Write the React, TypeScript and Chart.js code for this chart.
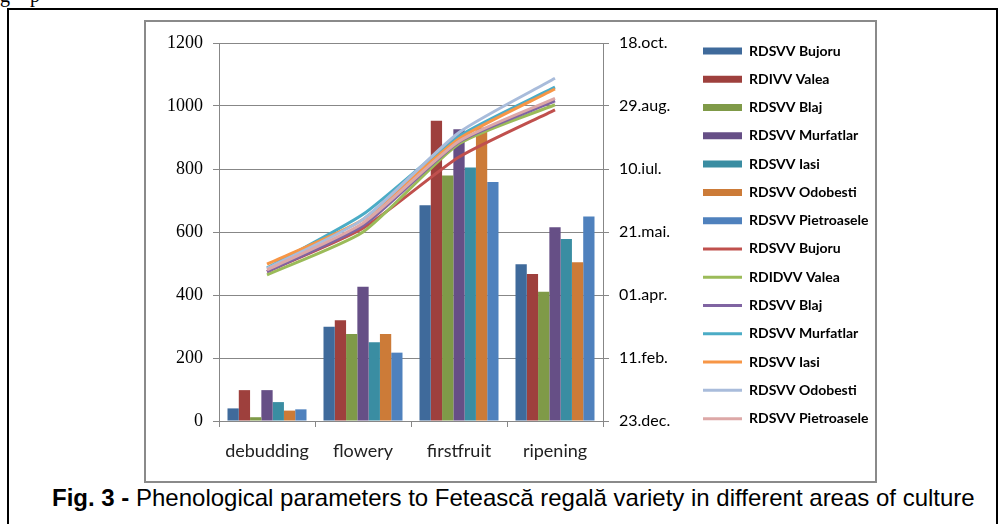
import React, { useEffect, useRef } from 'react';
import { Chart, registerables } from 'chart.js';

Chart.register(...registerables);

// ---------- data ----------
const categories = ['debudding', 'flowery', 'firstfruit', 'ripening'];

const barLabels = [
  'RDSVV Bujoru',
  'RDIVV Valea',
  'RDSVV Blaj',
  'RDSVV Murfatlar',
  'RDSVV Iasi',
  'RDSVV Odobesti',
  'RDSVV Pietroasele',
];
const lineLabels = [
  'RDSVV Bujoru',
  'RDIDVV Valea',
  'RDSVV Blaj',
  'RDSVV Murfatlar',
  'RDSVV Iasi',
  'RDSVV Odobesti',
  'RDSVV Pietroasele',
];

// bar values (left axis)
const bujoruBars = [40, 299, 685, 498];
const valeaBars = [98, 320, 953, 467];
const blajBars = [12, 276, 779, 410];
const murfatlarBars = [98, 426, 926, 615];
const iasiBars = [60, 250, 805, 578];
const odobestiBars = [33, 276, 932, 504];
const pietroaseleBars = [37, 217, 759, 649];

// line values (right axis): days counted from 23.dec.
const bujoruDays = [118.5, 153, 209.5, 247];
const valeaDays = [116, 150, 220, 251];
const blajDays = [118.5, 155, 221.5, 254];
const murfatlarDays = [121.5, 164, 226, 265];
const iasiDays = [124.5, 160, 224, 263.5];
const odobestiDays = [121, 160, 229, 272];
const pietroaseleDays = [120, 157, 222, 256];

const leftMin = 0;
const leftMax = 1200;
const leftStep = 200;
const rightMin = 0;
const rightMax = 300;
const rightStep = 50;
const dateTickLabels = ['23.dec.', '11.feb.', '01.apr.', '21.mai.', '10.iul.', '29.aug.', '18.oct.'];

// ---------- styles ----------
const barColors = ['#3F6A9B', '#9E403D', '#7F9A48', '#664F86', '#3A8DA2', '#CC7B38', '#4F81BD'];
const lineColors = ['#C0504D', '#9BBB59', '#8064A2', '#4BACC6', '#F79646', '#A9BCDB', '#DDA8A7'];
const GRID = '#878787';

const CANVAS_W = 729;
const CANVAS_H = 459;
const PLOT_LEFT = 73;
const PLOT_RIGHT = 457;
const PLOT_TOP = 21;
const XAXIS_H = 60;
const LEG_FONT = 14;
const LEG_PAD = 28.28 - LEG_FONT;
const LEG_LEFT = 557 - LEG_PAD;
const LEG_TOP = 29 - LEG_FONT / 2 - LEG_PAD;

export default function App() {
  const ref = useRef<HTMLCanvasElement>(null);

  useEffect(() => {
    const canvas = ref.current;
    if (!canvas) return;

    const barSeries = [bujoruBars, valeaBars, blajBars, murfatlarBars, iasiBars, odobestiBars, pietroaseleBars];
    const lineSeries = [bujoruDays, valeaDays, blajDays, murfatlarDays, iasiDays, odobestiDays, pietroaseleDays];

    const datasets: any[] = [
      ...barSeries.map((d, i) => ({
        type: 'bar',
        label: barLabels[i],
        data: d,
        backgroundColor: barColors[i],
        borderWidth: 0,
        yAxisID: 'y',
        order: 10 + i,
        categoryPercentage: 0.823,
        barPercentage: 1,
      })),
      ...lineSeries.map((d, i) => ({
        type: 'line',
        label: lineLabels[i],
        data: d,
        borderColor: lineColors[i],
        backgroundColor: lineColors[i],
        borderWidth: 3,
        pointRadius: 0,
        tension: 0.2,
        fill: false,
        yAxisID: 'y2',
        order: -i,
      })),
    ];

    const legendPlace = {
      id: 'legendPlace',
      afterLayout(chart: any) {
        const l = chart.legend;
        if (l) {
          const w = l.width;
          const h = l.height;
          l.left = LEG_LEFT;
          l.right = LEG_LEFT + w;
          l.top = LEG_TOP;
          l.bottom = LEG_TOP + h;
        }
      },
    };

    const chart = new Chart(canvas, {
      data: { labels: categories, datasets },
      options: {
        responsive: false,
        animation: false,
        layout: { padding: { top: PLOT_TOP, left: 0, right: 0, bottom: 0 } },
        plugins: {
          tooltip: { enabled: false },
          legend: {
            position: 'right',
            align: 'start',
            maxWidth: 260,
            labels: {
              usePointStyle: true,
              pointStyleWidth: 39,
              boxWidth: 39,
              boxHeight: 7,
              padding: LEG_PAD,
              color: '#000',
              font: { family: 'Lato', size: LEG_FONT, weight: 'bold' },
              generateLabels: (ch: any) =>
                ch.data.datasets.map((ds: any, i: number) => {
                  const isLine = ds.type === 'line';
                  const c = isLine ? ds.borderColor : ds.backgroundColor;
                  return {
                    text: ds.label,
                    datasetIndex: i,
                    fillStyle: c,
                    strokeStyle: c,
                    lineWidth: isLine ? 3 : 0,
                    pointStyle: isLine ? 'line' : 'rect',
                    hidden: false,
                    fontColor: '#000',
                  };
                }),
            },
          },
        },
        scales: {
          x: {
            type: 'category',
            offset: true,
            grid: { offset: true, drawOnChartArea: false, drawTicks: true, tickLength: 6, color: GRID },
            border: { color: GRID, width: 1 },
            ticks: { color: '#222', padding: 13, font: { family: 'Lato', size: 18 } },
            afterFit: (s: any) => {
              s.height = XAXIS_H;
            },
          },
          y: {
            position: 'left',
            min: leftMin,
            max: leftMax,
            ticks: {
              stepSize: leftStep,
              color: '#000',
              padding: 10,
              font: { family: 'Liberation Serif', size: 18 },
              callback: (v: any) => String(v),
            },
            grid: { color: GRID, tickLength: 6, lineWidth: 1 },
            border: { color: GRID, width: 1 },
            afterFit: (s: any) => {
              s.width = PLOT_LEFT;
            },
          },
          y2: {
            position: 'right',
            min: rightMin,
            max: rightMax,
            ticks: {
              stepSize: rightStep,
              color: '#000',
              padding: 10,
              font: { family: 'Lato', size: 16 },
              callback: (_v: any, i: number) => dateTickLabels[i],
            },
            grid: { drawOnChartArea: false, tickLength: 6, color: GRID },
            border: { color: GRID, width: 1 },
            afterFit: (s: any) => {
              const lw = s.chart.legend ? s.chart.legend.width : 190;
              s.width = CANVAS_W - PLOT_RIGHT - lw;
            },
          },
        },
      } as any,
      plugins: [legendPlace],
    } as any);

    return () => chart.destroy();
  }, []);

  return (
    <div
      style={{
        position: 'absolute',
        left: 0,
        top: 0,
        width: 999,
        height: 524,
        overflow: 'hidden',
        background: '#fff',
      }}
    >
      <div
        style={{
          position: 'absolute',
          left: 0,
          top: -16,
          fontFamily: 'Liberation Serif, serif',
          fontSize: 20,
          lineHeight: '23px',
          whiteSpace: 'pre',
          color: '#000',
        }}
      >
        {'g    p'}
      </div>
      <div
        style={{
          position: 'absolute',
          left: 7,
          top: 8,
          width: 991,
          height: 530,
          boxSizing: 'border-box',
          border: '2px solid #000',
          borderBottom: 'none',
        }}
      />
      <div
        style={{
          position: 'absolute',
          left: 144,
          top: 20,
          width: 733,
          height: 463,
          boxSizing: 'border-box',
          border: '2px solid #8a8a8a',
          background: '#fff',
        }}
      />
      <canvas
        ref={ref}
        width={CANVAS_W}
        height={CANVAS_H}
        style={{ position: 'absolute', left: 146, top: 22, width: CANVAS_W, height: CANVAS_H }}
      />
      <div
        style={{
          position: 'absolute',
          left: 52,
          top: 484,
          fontFamily: 'Liberation Sans, Arial, sans-serif',
          fontSize: 24,
          lineHeight: '27px',
          whiteSpace: 'nowrap',
          color: '#000',
        }}
      >
        <b>Fig. 3 -</b> Phenological parameters to Fetească regală variety in different areas of culture
      </div>
    </div>
  );
}
